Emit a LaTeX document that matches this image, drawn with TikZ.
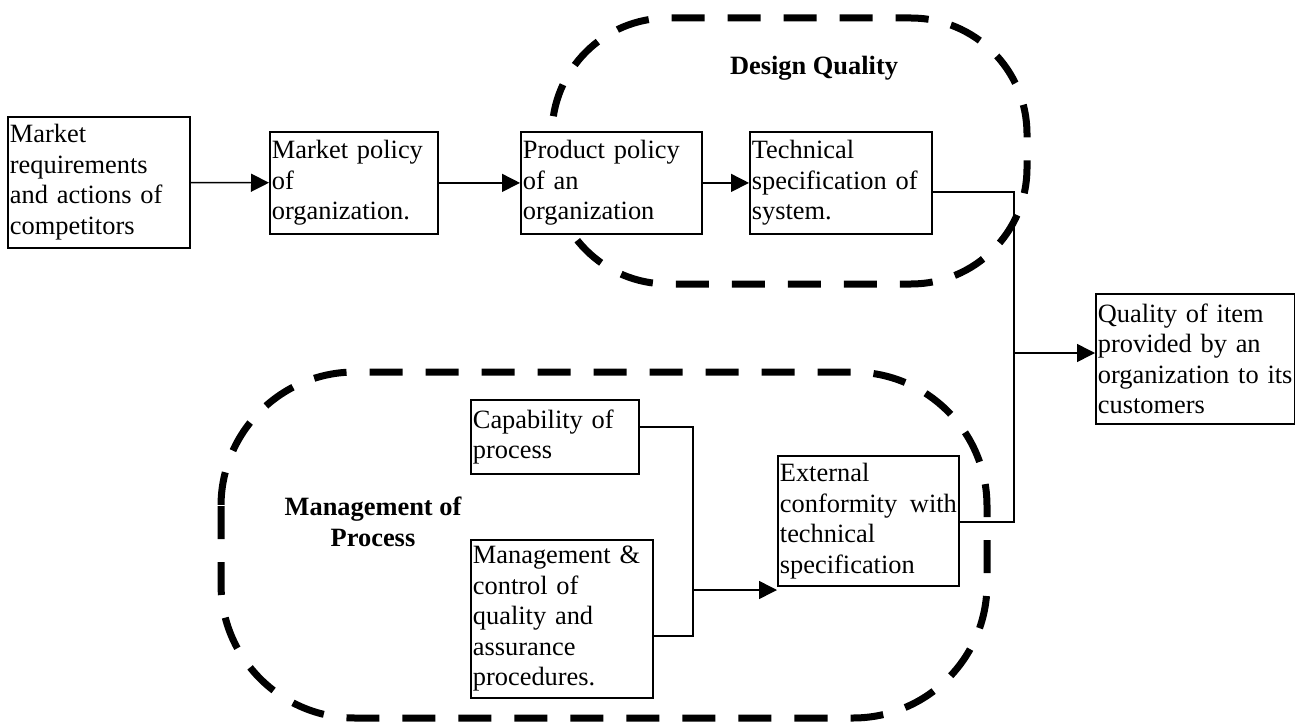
\documentclass[tikz,border=0pt]{standalone}
\usepackage{fontspec}
\setmainfont{Liberation Serif}
\usetikzlibrary{arrows.meta}

\begin{document}
\begin{tikzpicture}[x=0.5pt, y=-0.5pt, >={Triangle[length=9pt,width=9pt]}]
            \tikzstyle{stage}=[draw, line width=0.9pt, fill=white, anchor=north west, align=left, inner xsep=1pt, inner ysep=0pt, font=\fontsize{13.2pt}{15.25pt}\selectfont]
            \tikzstyle{zone}=[draw, line width=3.5pt, dash pattern=on 16.5pt off 11.5pt]
            \tikzstyle{zonelabel}=[align=center, font=\fontsize{13.2pt}{15.25pt}\selectfont\bfseries]
            \tikzstyle{link}=[line width=0.75pt]
            \useasboundingbox (0,0) rectangle (1295,722);
            % dashed regions first, the boxes sit on top of them
            \draw[zone, rounded corners=58pt] (552,18) rectangle (1027,284);
            \draw[zone, rounded corners=67pt] (221,372) rectangle (987,718);
            \node[zonelabel] (DQ) at (814,68) {Design Quality};
            \node[zonelabel] (MP) at (373,522) {Management of\\Process};
            % top row
            \node[stage, text width=89pt, minimum height=65.5pt] (Mr) at (7,116) {Market\\requirements\\and actions of\\competitors};
            \node[stage, text width=82pt, minimum height=51pt] (Mp) at (269,131) {Market policy\\of\\organization.};
            \node[stage, text width=88.5pt, minimum height=51pt] (Pp) at (520,131) {Product policy\\of an\\organization};
            \node[stage, text width=89pt, minimum height=51pt] (Ts) at (749,131) {Technical\\specification of\\system.};
            \node[stage, text width=97.5pt, minimum height=65pt] (Q) at (1095,293) {Quality of item\\provided by an\\organization to its\\customers};
            % process part
            \node[stage, text width=82pt, minimum height=37pt] (Cp) at (470,399) {Capability of\\process};
            \node[stage, text width=89pt, minimum height=79pt] (Mc) at (470,539) {Management \&\\control of\\quality and\\assurance\\procedures.};
            \node[stage, text width=88.5pt, minimum height=65pt] (Ec) at (777,455) {External\\conformity\hfill with\\technical\\specification};
            \path [->, link] (Mr) edge[] (Mp);
            \path [->, link] (Mp) edge[] (Pp);
            \path [->, link] (Pp) edge[] (Ts);
            \coordinate (t1) at (1014,192);
            \coordinate (t2) at (1014,522);
            \coordinate (t3) at (1014,353);
            \draw[link] (Ts.east |- t1) -- (t1) -- (t2) -- (t2 -| Ec.east);
            \draw[link, ->] (t3) -- (t3 -| Q.west);
            \coordinate (p1) at (693,427);
            \coordinate (p2) at (693,636);
            \coordinate (p3) at (693,590);
            \draw[link] (Cp.east |- p1) -- (p1) -- (p2) -- (p2 -| Mc.east);
            \draw[link, ->] (p3) -- (p3 -| Ec.west);
        \end{tikzpicture}
\end{document}
